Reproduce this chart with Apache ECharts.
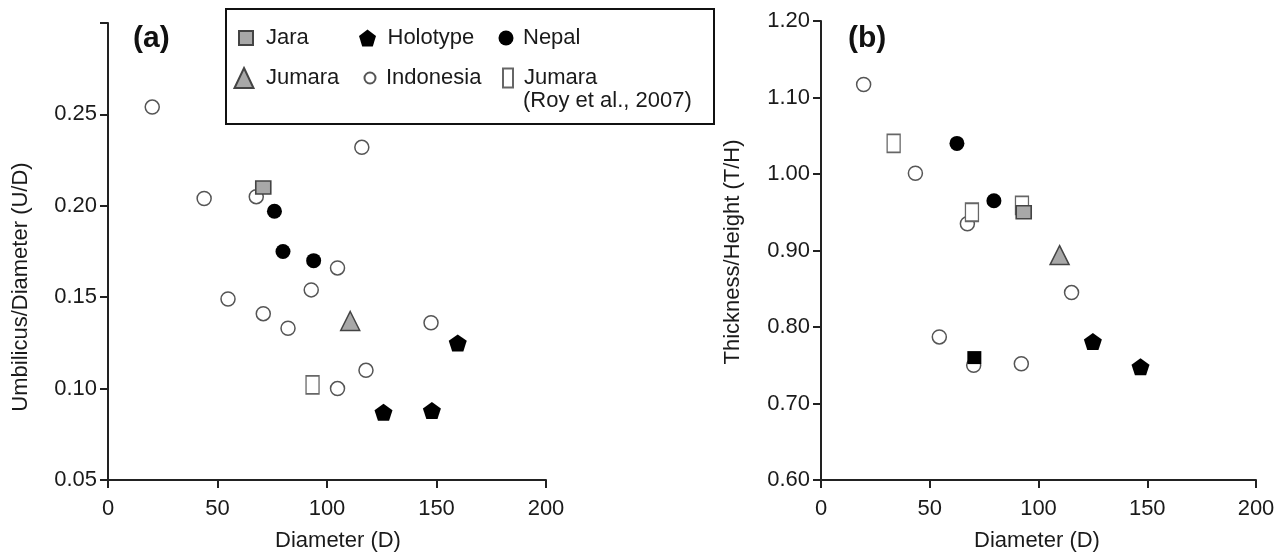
<!DOCTYPE html>
<html>
<head>
<meta charset="utf-8">
<script src="https://cdn.jsdelivr.net/npm/echarts@6/dist/echarts.min.js"></script>
<style>
html,body{margin:0;padding:0;background:#fff;}
#chart{width:1286px;height:558px;}
</style>
</head>
<body>
<div id="chart"></div>
<script>
// ---------- Data ----------
const xTicks = [0, 50, 100, 150, 200];
// Panel (a): Diameter vs Umbilicus/Diameter
const aIndonesiaD  = [20.2, 115.9, 43.9, 67.7, 104.8, 92.8, 54.8, 70.9, 82.2, 147.5, 117.8, 104.8];
const aIndonesiaUD = [0.254, 0.232, 0.204, 0.205, 0.166, 0.154, 0.149, 0.141, 0.133, 0.136, 0.110, 0.100];
const aJaraD  = [70.9];
const aJaraUD = [0.210];
const aNepalD  = [76.0, 79.9, 93.9];
const aNepalUD = [0.197, 0.175, 0.170];
const aJumaraD  = [110.6];
const aJumaraUD = [0.137];
const aHolotypeD  = [159.7, 125.8, 147.9];
const aHolotypeUD = [0.125, 0.087, 0.088];
const aRoyD  = [93.4];
const aRoyUD = [0.102];
// Panel (b): Diameter vs Thickness/Height
const bIndonesiaD  = [19.6, 43.4, 67.3, 115.2, 54.4, 70.2, 92.1];
const bIndonesiaTH = [1.117, 1.001, 0.935, 0.845, 0.787, 0.750, 0.752];
const bRoyD  = [33.4, 69.4, 92.4];
const bRoyTH = [1.040, 0.950, 0.959];
const bNepalD  = [62.5, 79.5];
const bNepalTH = [1.040, 0.965];
const bJaraD  = [93.2];
const bJaraTH = [0.950];
const bBlackSquareD  = [70.5];
const bBlackSquareTH = [0.760];
const bJumaraD  = [109.7];
const bJumaraTH = [0.894];
const bHolotypeD  = [125.0, 146.9];
const bHolotypeTH = [0.781, 0.748];

const names = {
  jara: 'Jara', holo: 'Holotype', nepal: 'Nepal',
  jumara: 'Jumara', indo: 'Indonesia', roy: 'Jumara (Roy et al., 2007)'
};

function pts(xs, ys) { return xs.map((x, i) => [x, ys[i]]); }

const FONT = '"Liberation Sans", Arial, Helvetica, sans-serif';
const TXT = '#1a1a1a';
const PENT = 'path://M50,0 L100,38 L81,100 L19,100 L0,38 Z';

const styles = {
  indo:   { symbol: 'circle', size: 14, itemStyle: { color: '#fff', borderColor: '#555', borderWidth: 1.5, opacity: 1 } },
  jara:   { symbol: 'rect', size: [15, 13], itemStyle: { color: '#a8a8a8', borderColor: '#444', borderWidth: 1.5, opacity: 1 } },
  nepal:  { symbol: 'circle', size: 15, itemStyle: { color: '#000', borderColor: '#000', borderWidth: 0, opacity: 1 } },
  jumara: { symbol: 'triangle', size: [19, 19], itemStyle: { color: '#a8a8a8', borderColor: '#444', borderWidth: 1.5, opacity: 1 } },
  holo:   { symbol: PENT, size: [18, 17], itemStyle: { color: '#000', borderColor: '#000', borderWidth: 0, opacity: 1 } },
  roy:    { symbol: 'rect', size: [13, 18], itemStyle: { color: '#fff', borderColor: '#666', borderWidth: 1.5, opacity: 1 } },
  black:  { symbol: 'rect', size: [14, 13], itemStyle: { color: '#000', borderColor: '#000', borderWidth: 0, opacity: 1 } }
};

function sc(key, name, data, idx, z) {
  const s = styles[key];
  return {
    type: 'scatter', name: name, xAxisIndex: idx, yAxisIndex: idx,
    data: data, symbol: s.symbol, symbolSize: s.size, itemStyle: s.itemStyle,
    z: z, emphasis: { disabled: true }, animation: false
  };
}

function axisCommon() {
  return {
    axisLine: { show: true, onZero: false, lineStyle: { color: '#222', width: 2 } },
    axisTick: { show: true, inside: false, length: 8, lineStyle: { color: '#222', width: 2 } },
    splitLine: { show: false },
    axisLabel: { color: TXT, fontSize: 22, fontFamily: FONT }
  };
}

function xAx(gi) {
  const c = axisCommon();
  return Object.assign(c, {
    type: 'value', gridIndex: gi, min: xTicks[0], max: xTicks[xTicks.length - 1], interval: 50,
    axisLabel: Object.assign(c.axisLabel, { margin: 18 })
  });
}

const yA = Object.assign(axisCommon(), {
  type: 'value', gridIndex: 0, min: 0.05, max: 0.30, interval: 0.05
});
yA.axisLabel = Object.assign(yA.axisLabel, {
  margin: 11, formatter: v => (v > 0.299 ? '' : v.toFixed(2))
});
const yB = Object.assign(axisCommon(), {
  type: 'value', gridIndex: 1, min: 0.6, max: 1.2, interval: 0.1
});
yB.axisLabel = Object.assign(yB.axisLabel, { margin: 11, formatter: v => v.toFixed(2) });

function leg(name, icon, w, h, left, top, padLeft) {
  return {
    data: [{ name: name, icon: icon }],
    left: left, top: top, padding: 0, itemWidth: w, itemHeight: h,
    selectedMode: false,
    formatter: n => (n === names.roy ? 'Jumara' : n),
    textStyle: { color: TXT, fontSize: 22, fontFamily: FONT, lineHeight: 24, padding: [0, 0, 0, padLeft] }
  };
}

const option = {
  backgroundColor: '#fff',
  animation: false,
  grid: [
    { left: 108, top: 23, width: 438, height: 457 },
    { left: 821, top: 21, width: 435, height: 459 }
  ],
  xAxis: [xAx(0), xAx(1)],
  yAxis: [yA, yB],
  legend: [
    leg(names.jara, 'rect', 14, 14, 238, 26, 8),
    leg(names.holo, PENT, 18, 17, 359, 26, 6),
    leg(names.nepal, 'circle', 15, 15, 498.5, 26, 4.5),
    leg(names.jumara, 'triangle', 19, 20, 233.5, 66, 7.5),
    leg(names.indo, 'circle', 11, 11, 363.5, 66, 5.5),
    leg(names.roy, 'rect', 10, 19, 502, 66, 6)
  ],
  graphic: [
    { type: 'rect', left: 225, top: 8, z: 0,
      shape: { width: 488, height: 115 },
      style: { fill: '#fff', stroke: '#111', lineWidth: 2 } },
    { type: 'text', left: 523, top: 90, z: 10,
      style: { text: '(Roy et al., 2007)', fill: TXT, font: '22px ' + FONT } },
    { type: 'text', left: 133, top: 24, z: 10,
      style: { text: '(a)', fill: '#111', font: 'bold 30px ' + FONT } },
    { type: 'text', left: 848, top: 24, z: 10,
      style: { text: '(b)', fill: '#111', font: 'bold 30px ' + FONT } },
    { type: 'text', x: 338, y: 541, z: 10,
      style: { text: 'Diameter (D)', fill: TXT, font: '22px ' + FONT, align: 'center', verticalAlign: 'middle' } },
    { type: 'text', x: 1037, y: 541, z: 10,
      style: { text: 'Diameter (D)', fill: TXT, font: '22px ' + FONT, align: 'center', verticalAlign: 'middle' } },
    { type: 'text', x: 21, y: 287, rotation: Math.PI / 2, z: 10,
      style: { text: 'Umbilicus/Diameter (U/D)', fill: TXT, font: '22px ' + FONT, align: 'center', verticalAlign: 'middle' } },
    { type: 'text', x: 733, y: 252, rotation: Math.PI / 2, z: 10,
      style: { text: 'Thickness/Height (T/H)', fill: TXT, font: '22px ' + FONT, align: 'center', verticalAlign: 'middle' } }
  ],
  series: [
    sc('indo', names.indo, pts(aIndonesiaD, aIndonesiaUD), 0, 2),
    sc('jara', names.jara, pts(aJaraD, aJaraUD), 0, 3),
    sc('nepal', names.nepal, pts(aNepalD, aNepalUD), 0, 3),
    sc('jumara', names.jumara, pts(aJumaraD, aJumaraUD), 0, 3),
    sc('holo', names.holo, pts(aHolotypeD, aHolotypeUD), 0, 3),
    sc('roy', names.roy, pts(aRoyD, aRoyUD), 0, 3),
    sc('indo', names.indo, pts(bIndonesiaD, bIndonesiaTH), 1, 2),
    sc('roy', names.roy, pts(bRoyD, bRoyTH), 1, 3),
    sc('jara', names.jara, pts(bJaraD, bJaraTH), 1, 4),
    sc('black', 'Unlabelled', pts(bBlackSquareD, bBlackSquareTH), 1, 4),
    sc('nepal', names.nepal, pts(bNepalD, bNepalTH), 1, 3),
    sc('jumara', names.jumara, pts(bJumaraD, bJumaraTH), 1, 3),
    sc('holo', names.holo, pts(bHolotypeD, bHolotypeTH), 1, 3)
  ]
};

const chart = echarts.init(document.getElementById('chart'), null, { renderer: 'canvas' });
chart.setOption(option);
</script>
</body>
</html>
